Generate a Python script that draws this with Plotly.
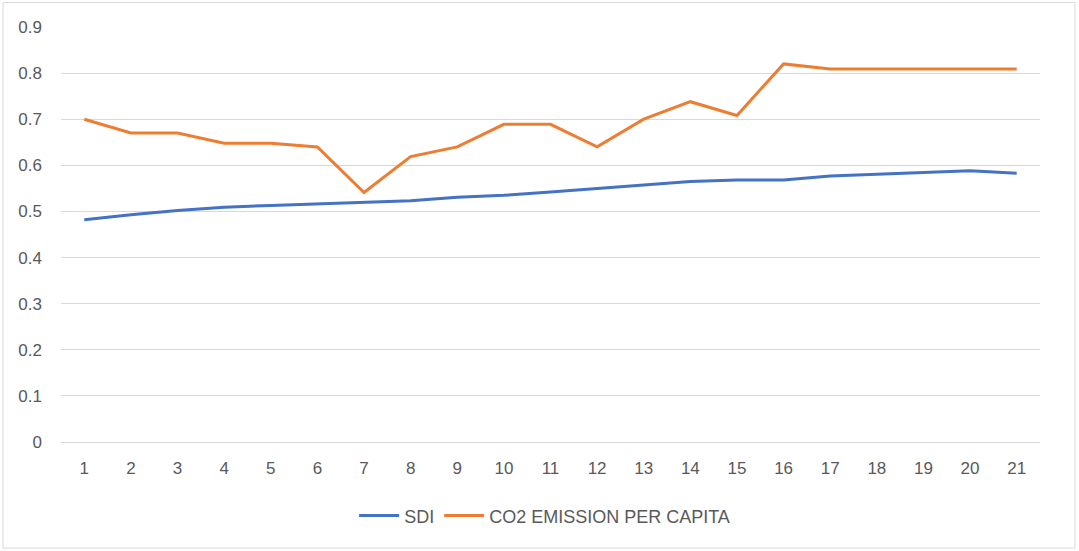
import plotly.graph_objects as go

categories = [str(i) for i in range(1, 22)]
sdi = [0.482, 0.493, 0.502, 0.509, 0.513, 0.516, 0.520, 0.523, 0.531, 0.535, 0.542,
       0.550, 0.558, 0.565, 0.568, 0.568, 0.577, 0.581, 0.584, 0.588, 0.583]
co2 = [0.700, 0.670, 0.670, 0.648, 0.648, 0.640, 0.541, 0.619, 0.640, 0.689, 0.689,
       0.640, 0.700, 0.738, 0.708, 0.820, 0.809, 0.809, 0.809, 0.809, 0.809]
y_ticks = [0, 0.1, 0.2, 0.3, 0.4, 0.5, 0.6, 0.7, 0.8, 0.9]
y_labels = ["0", "0.1", "0.2", "0.3", "0.4", "0.5", "0.6", "0.7", "0.8", "0.9"]

font_family = "Liberation Sans Narrow, Liberation Sans, Arial, sans-serif"
txt = "#595959"

fig = go.Figure()
fig.add_trace(go.Scatter(x=categories, y=sdi, mode="lines", name="SDI",
                         line=dict(color="#4472C4", width=3)))
fig.add_trace(go.Scatter(x=categories, y=co2, mode="lines", name="CO2 EMISSION PER CAPITA",
                         line=dict(color="#ED7D31", width=3)))

fig.update_layout(
    width=1079, height=551,
    margin=dict(l=61, r=39, t=27, b=109),
    paper_bgcolor="white", plot_bgcolor="white",
    font=dict(family=font_family, size=17, color=txt),
    showlegend=True,
    legend=dict(orientation="h", x=0.494, xanchor="center", y=-0.178, yanchor="middle",
                font=dict(size=18, color=txt), itemwidth=40),
    xaxis=dict(type="category", range=[-0.5, 20.5], showgrid=False, showline=False,
               zeroline=False, ticks="", tickfont=dict(size=17, color=txt),
               ticklabelstandoff=14),
    yaxis=dict(range=[0, 0.9], tickvals=y_ticks, ticktext=y_labels, showgrid=True,
               gridcolor="#D9D9D9", gridwidth=1, zeroline=True, zerolinecolor="#D9D9D9",
               zerolinewidth=1, showline=False, ticks="", tickfont=dict(size=17, color=txt),
               ticklabelstandoff=18),
    shapes=[dict(type="rect", xref="paper", yref="paper",
                 x0=-0.0592, x1=1.0357, y0=-0.2557, y1=1.0591,
                 line=dict(color="#D9D9D9", width=1), fillcolor="rgba(0,0,0,0)", layer="below")],
)

fig.write_html("out.html", config={"displayModeBar": False},
               post_script="document.body.style.margin='0px';")
